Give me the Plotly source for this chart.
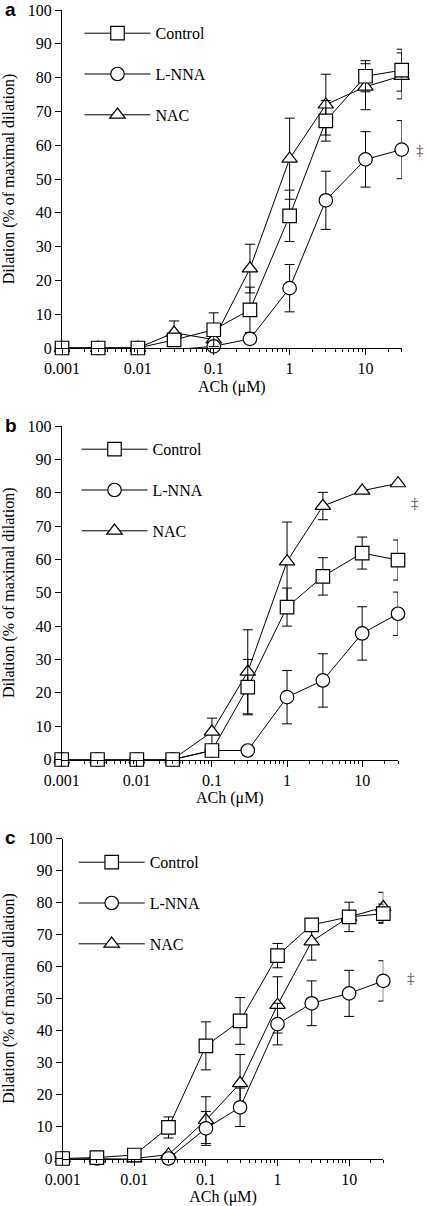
import math
import plotly.graph_objects as go

# ---------------- data ----------------
ach = [0.001, 0.003, 0.01, 0.03, 0.1, 0.3, 1, 3, 10, 30]
series_names = ["Control", "L-NNA", "NAC"]

a_control = [0, 0, 0, 2.4, 5.4, 11.3, 39.1, 67.2, 80.4, 82.2]
a_control_err = [0, 0, 0, 0, 5.0, 6.7, 7.6, 6.0, 4.6, 6.2]
a_lnna = [0, 0, 0, -0.5, 0.5, 2.7, 17.7, 43.7, 55.8, 58.7]
a_lnna_err = [0, 0, 0, 0, 0, 0, 7.0, 8.6, 8.2, 8.6]
a_nac = [0, 0, 0, 4.5, 2.5, 23.5, 56.0, 72.0, 77.3, 80.5]
a_nac_err = [0, 0, 0, 3.5, 0, 7.2, 12.0, 9.0, 6.8, 6.8]

b_control = [0, 0, 0, 0, 2.7, 21.7, 45.7, 54.9, 61.9, 59.8]
b_control_err = [0, 0, 0, 0, 0, 8.3, 5.7, 5.6, 4.8, 6.0]
b_lnna = [0, 0, 0, 0, 2.7, 2.7, 18.7, 23.7, 37.8, 43.7]
b_lnna_err = [0, 0, 0, 0, 0, 0, 8.0, 8.0, 8.0, 6.5]
b_nac = [0, 0, 0, 0, 8.3, 26.3, 59.4, 76.0, 80.6, 82.8]
b_nac_err = [0, 0, 0, 0, 4.1, 12.6, 11.8, 4.1, 0, 0]

c_control = [0, 0.3, 1.1, 9.7, 35.2, 43.0, 63.4, 73.0, 75.5, 76.5]
c_control_err = [0, 0, 0, 3.3, 7.5, 7.3, 3.8, 0, 4.6, 3.0]
c_lnna = [0, 0, -0.5, 0, 9.4, 16.0, 42.0, 48.5, 51.6, 55.5]
c_lnna_err = [0, 0, 0, 0, 5.3, 6.0, 6.5, 7.0, 7.2, 6.3]
c_nac = [0, 0, 0, 1.2, 12.0, 23.5, 48.0, 67.8, 75.5, 78.5]
c_nac_err = [0, 0, 0, 0, 7.3, 9.0, 8.8, 5.8, 0, 4.7]

panels = [
    ("a", [(a_control, a_control_err), (a_lnna, a_lnna_err), (a_nac, a_nac_err)], 58.6),
    ("b", [(b_control, b_control_err), (b_lnna, b_lnna_err), (b_nac, b_nac_err)], 77.0),
    ("c", [(c_control, c_control_err), (c_lnna, c_lnna_err), (c_nac, c_nac_err)], 56.3),
]

y_ticks = [0, 10, 20, 30, 40, 50, 60, 70, 80, 90, 100]
x_ticks = [0.001, 0.01, 0.1, 1, 10]
x_ticklabels = ["0.001", "0.01", "0.1", "1", "10"]

# ---------------- style ----------------
W, H = 426, 1206
SERIF = "Times New Roman, Liberation Serif, serif"
symbols = ["square", "circle", "triangle-up"]
# plot areas in pixels: (left, right, top, bottom)
areas = [(62, 401.7, 10, 348), (61.7, 398, 426, 759.5), (62.7, 383.3, 838.5, 1158.5)]
legend_pos = [(79.5, 33.3), (76.5, 449.3), (73.7, 862.3)]
dagger_shift = [18, 17, 28]

fig = go.Figure()
layout = dict(
    width=W, height=H, margin=dict(l=0, r=0, t=0, b=0),
    paper_bgcolor="white", plot_bgcolor="white", showlegend=True,
    font=dict(family=SERIF, size=16, color="black"),
    annotations=[],
)

for i, (letter, data, dagger_y) in enumerate(panels):
    sfx = "" if i == 0 else str(i + 1)
    left, right, top, bottom = areas[i]
    xa = dict(
        type="log", range=[math.log10(0.001), math.log10(30)],
        domain=[left / W, right / W], anchor="y" + sfx,
        showline=True, linecolor="black", linewidth=1, showgrid=False, zeroline=False,
        ticks="outside", ticklen=6, tickwidth=1, tickcolor="black",
        tickvals=x_ticks, ticktext=x_ticklabels,
        tickfont=dict(family=SERIF, size=16, color="black"),
        minor=dict(ticks="outside", ticklen=3, tickcolor="black", dtick="D1", showgrid=False),
        title=dict(text="ACh (μM)", font=dict(family=SERIF, size=16, color="black"), standoff=4),
        automargin=False, fixedrange=True,
    )
    ya = dict(
        range=[0, 100], domain=[1 - bottom / H, 1 - top / H], anchor="x" + sfx,
        showline=True, linecolor="black", linewidth=1, showgrid=False, zeroline=False,
        ticks="outside", ticklen=6, tickwidth=1, tickcolor="black",
        tickvals=y_ticks, tickfont=dict(family=SERIF, size=16, color="black"),
        title=dict(text="Dilation (% of maximal dilation)",
                   font=dict(family=SERIF, size=16, color="black"), standoff=12),
        automargin=False, fixedrange=True,
    )
    layout["xaxis" + sfx] = xa
    layout["yaxis" + sfx] = ya

    lg_name = "legend" if i == 0 else "legend" + str(i + 1)
    lx, ly = legend_pos[i]
    layout[lg_name] = dict(
        x=lx / W, y=1 - (ly - 17) / H, xanchor="left", yanchor="top",
        bgcolor="rgba(0,0,0,0)", borderwidth=0, itemwidth=66,
        font=dict(family=SERIF, size=16, color="black"), tracegroupgap=17, traceorder="grouped",
        itemclick=False, itemdoubleclick=False,
    )

    # draw NAC first, then L-NNA, Control on top (as in the reference)
    for j in [2, 1, 0]:
        vals, errs = data[j]
        fig.add_trace(go.Scatter(
            x=ach, y=vals, name=series_names[j], mode="lines+markers",
            xaxis="x" + sfx, yaxis="y" + sfx, legend=lg_name, legendgroup=letter + str(j),
            legendrank=j + 1,
            line=dict(color="black", width=1),
            marker=dict(symbol=symbols[j], size=13.5, color="white",
                        line=dict(color="black", width=1.2)),
            error_y=dict(type="data", array=errs, visible=True, color="black",
                         thickness=1, width=5),
            cliponaxis=False,
        ))

    layout["annotations"].append(dict(
        text="<b>" + letter + "</b>", xref="paper", yref="paper",
        x=3 / W, y=1 - (top - 1) / H, xanchor="left", yanchor="middle",
        showarrow=False, font=dict(family="Liberation Sans, Arial, sans-serif", size=19, color="black"),
    ))
    layout["annotations"].append(dict(
        text="‡", xref="x" + sfx, yref="y" + sfx, x=math.log10(30), y=dagger_y,
        xshift=dagger_shift[i], showarrow=False,
        font=dict(family=SERIF, size=15, color="#444444"),
    ))

fig.update_layout(**layout)
# remove the default page margin so the figure sits at the window's top-left corner
fig.write_html(
    "out.html",
    config={"displayModeBar": False, "staticPlot": True},
    post_script="document.body.style.margin='0';document.body.style.padding='0';",
)
